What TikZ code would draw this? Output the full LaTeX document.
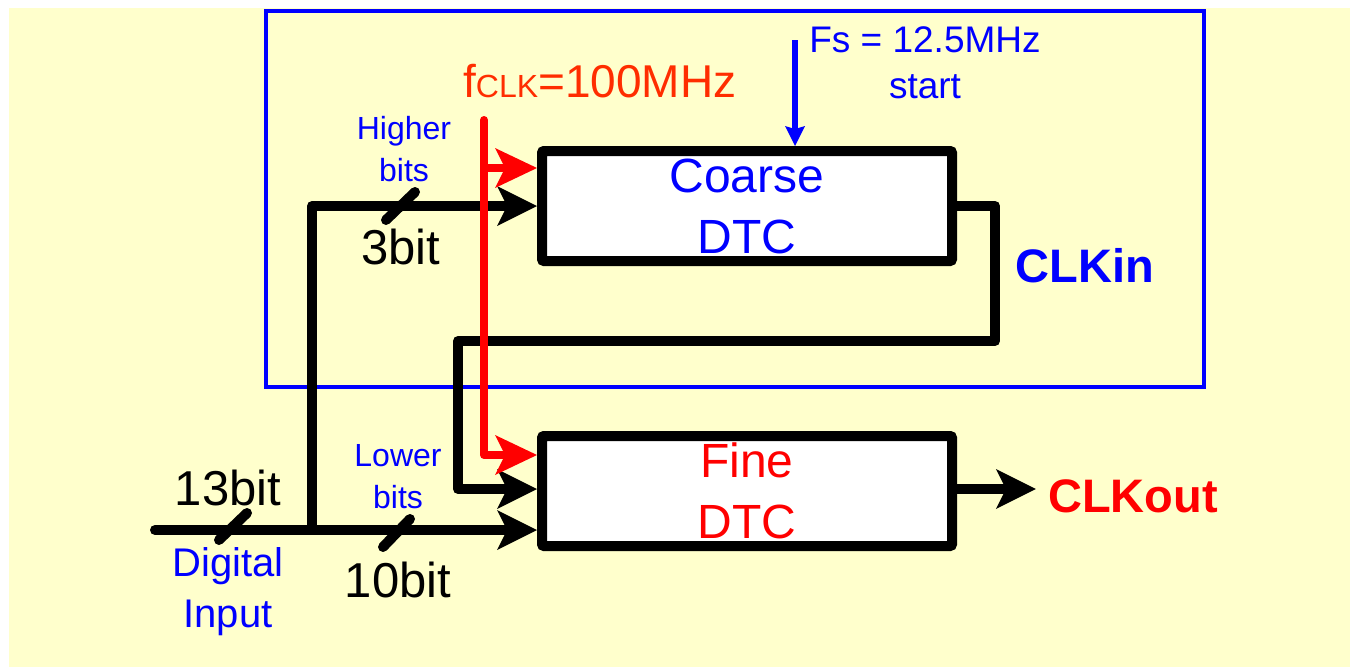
\documentclass[tikz,border=0pt]{standalone}
\usepackage{fontspec}
\setmainfont{Liberation Sans}
\usetikzlibrary{arrows.meta}
\definecolor{bgYellow}{RGB}{255,255,204}
\definecolor{sigBlue}{RGB}{0,0,255}
\definecolor{clkRed}{RGB}{255,0,0}
\definecolor{clkOrange}{RGB}{255,45,0}

\tikzset{
  dtc/.style={draw, line width=10pt, fill=white, rounded corners=2pt,
    minimum width=410pt, minimum height=110pt, align=center,
    font=\fontsize{48}{61}\selectfont},
  bus/.style={line width=10pt, line join=round,
    -{Stealth[length=40pt, width=40pt, inset=10pt, line width=0pt]}},
  clkline/.style={clkRed, line width=8pt, line join=round, line cap=round,
    -{Stealth[length=42pt, width=40pt, inset=10pt, line width=0pt]}},
  fsarrow/.style={sigBlue, line width=6pt,
    -{Stealth[length=20pt, width=20pt, inset=3pt, line width=0pt]}},
  tick/.style={line width=10pt, line cap=round},
  bitlbl/.style={font=\fontsize{49}{49}\selectfont},
  sublbl/.style={text=sigBlue, align=center, font=\fontsize{32}{42}\selectfont}
}

\begin{document}
\begin{tikzpicture}[x=1pt, y=-1pt]
  \useasboundingbox (0,0) rectangle (1350,667);
  \fill[bgYellow] (9,8) rectangle (1350,667);
  \draw[sigBlue, line width=4pt] (266,11) rectangle (1204,387);

  % the two converters
  \node[dtc, text=sigBlue] (coarse) at (747,206) {Coarse\\DTC};
  \node[dtc, text=clkRed] (fine) at (747,491) {Fine\\DTC};

  % labels
  \node[sublbl] (hibits) at (404,149) {Higher\\bits};
  \node[sublbl] (lobits) at (398,477) {Lower\\bits};
  \node[bitlbl] (b3) at (401,247) {3bit};
  \node[bitlbl] (b13) at (228,488) {13bit};
  \node[bitlbl] (b10) at (398,580) {10bit};
  \node[text=sigBlue, align=center, font=\fontsize{40}{51}\selectfont] (din lbl) at (228,592) {Digital\\Input};
  \node[text=sigBlue, align=center, font=\fontsize{37}{46}\selectfont] (fs) at (925,63) {Fs = 12.5MHz\\start};
  \node[text=sigBlue, font=\bfseries\fontsize{47}{47}\selectfont] (clkin) at (1085,266) {CLKin};
  \node[text=clkRed, font=\bfseries\fontsize{47}{47}\selectfont, inner sep=12pt] (clkout) at (1133,496) {CLKout};
  \node[anchor=base west, inner sep=0pt, text=clkOrange] (fclk) at (463,97)
    {\fontsize{46}{46}\selectfont f\fontsize{32}{32}\selectfont CLK\fontsize{46}{46}\selectfont =100MHz};

  \coordinate (din) at (155,530);
  \coordinate (split) at (312,530);
  \coordinate (loopR) at (995,341);
  \coordinate (loopL) at (458,341);
  \coordinate (clk) at (484,120);
  \coordinate (fsin) at (795,40);
  \coordinate (cin) at ([yshift=38pt]coarse.west);
  \coordinate (fin) at ([yshift=36pt]fine.west);

  % data and clock paths
  \draw[bus, line cap=round] (din) -- (split -| fine.west);
  \draw[bus] (split) |- (coarse.west);
  \draw[bus] (coarse.east) -| (loopR) -- (loopL) |- ([yshift=2pt]fine.west);
  \draw[bus] ([yshift=2pt]fine.east) -- ([yshift=2pt]fine.east -| clkout.west);
  \draw[tick] (219,540) -- (247,513);
  \draw[tick] (386,220) -- (415,192);
  \draw[tick] (383,547) -- (410,519);

  \draw[clkline] (clk |- cin) -- (cin);
  \draw[clkline] (clk) |- (fin);
  \draw[fsarrow] (fsin) -- (fsin |- coarse.north);
\end{tikzpicture}
\end{document}
